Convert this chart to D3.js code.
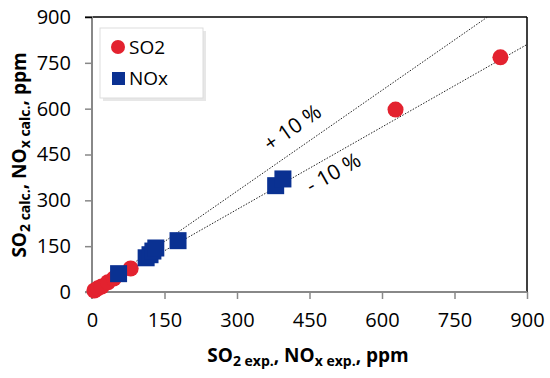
<!DOCTYPE html>
<html><head><meta charset="utf-8">
<script src="https://cdn.jsdelivr.net/npm/d3@7"></script>
<style>body{margin:0;background:#fff}</style>
</head><body><svg id="c" width="550" height="378"></svg>
<script>
const ticks = [0,150,300,450,600,750,900];
const so2X = [5,12,20,33,45,80,628,845];
const so2Y = [5,12,18,32,44,77,597,768];
const noxX = [55,112,120,126,132,178,380,395];
const noxY = [60,112,122,134,144,168,348,370];
const bandFactors = [1.1, 0.9];
const bandLabels = ["+ 10 %", "- 10 %"];
const legendNames = ["SO2","NOx"];

const svg = d3.select("#c");
const font = "'Open Sans', sans-serif";
const L=92,R=527,T=17,B=292;
const x = d3.scaleLinear().domain([0,900]).range([L,R]);
const y = d3.scaleLinear().domain([0,900]).range([B,T]);

// frame
svg.append("line").attr("x1",L).attr("x2",R).attr("y1",T).attr("y2",T).attr("stroke","#000").attr("stroke-width",1.5);
svg.append("line").attr("x1",R).attr("x2",R).attr("y1",T).attr("y2",B).attr("stroke","#000").attr("stroke-width",1.5);

svg.append("clipPath").attr("id","cp").append("rect").attr("x",L).attr("y",T).attr("width",R-L).attr("height",B-T);

// guide lines
const g = svg.append("g").attr("clip-path","url(#cp)");
bandFactors.forEach(f=>{
  g.append("line").attr("x1",x(0)).attr("y1",y(0)).attr("x2",x(1000)).attr("y2",y(1000*f))
   .attr("stroke","#222").attr("stroke-width",1).attr("stroke-dasharray","1.5,1.5");
});

// axes
const xa = svg.append("g").attr("transform",`translate(0,${B})`).call(d3.axisBottom(x).tickValues(ticks).tickSize(7).tickPadding(14));
const ya = svg.append("g").attr("transform",`translate(${L},0)`).call(d3.axisLeft(y).tickValues(ticks).tickSize(7).tickPadding(14));
[xa,ya].forEach(a=>{
  a.select(".domain").attr("stroke","#888").attr("stroke-width",2);
  a.selectAll(".tick line").attr("stroke","#888").attr("stroke-width",1.5);
  a.selectAll(".tick text").attr("font-family",font).attr("font-size",20).attr("fill","#000");
});
xa.select(".domain").attr("d",`M${L},7V0H${R}V0`);
ya.select(".domain").attr("d",`M-7,${B}H0V${T}H-7`);
ya.selectAll(".tick").filter(d=>d===900).select("line").attr("stroke","#000");

// points
const so2 = so2X.map((v,i)=>[v,so2Y[i]]);
const nox = noxX.map((v,i)=>[v,noxY[i]]);
svg.append("g").selectAll("circle").data(so2).join("circle")
  .attr("cx",d=>x(d[0])).attr("cy",d=>y(d[1])).attr("r",8).attr("fill","#e3222f");
svg.append("g").selectAll("rect").data(nox).join("rect")
  .attr("x",d=>x(d[0])-8.5).attr("y",d=>y(d[1])-8.5).attr("width",17).attr("height",17).attr("fill","#0a3192");

// band labels
const angs = bandFactors.map(f=>Math.atan(f*(B-T)/(R-L))*180/Math.PI);
[[292,127],[333,172]].forEach((p,i)=>{
  svg.append("text").attr("transform",`translate(${p[0]},${p[1]}) rotate(${-angs[i]})`)
    .attr("text-anchor","middle").attr("dominant-baseline","central")
    .attr("font-family",font).attr("font-size",21).text(bandLabels[i]);
});

// legend
const lg = svg.append("g");
lg.append("rect").attr("x",103).attr("y",31).attr("width",103).attr("height",70).attr("fill","#d0d0d0").attr("opacity",0.5);
lg.append("rect").attr("x",100).attr("y",28).attr("width",103).attr("height",70).attr("fill","#fff").attr("stroke","#ddd");
lg.append("circle").attr("cx",118).attr("cy",47).attr("r",7).attr("fill","#e3222f");
lg.append("rect").attr("x",112).attr("y",72).attr("width",13).attr("height",13).attr("fill","#0a3192");
legendNames.forEach((n,i)=>{
  lg.append("text").attr("x",129).attr("y",54+i*31).attr("font-family",font).attr("font-size",19).text(n);
});

// axis titles
const xt = svg.append("text").attr("x",308).attr("y",362).attr("text-anchor","middle")
  .attr("font-family",font).attr("font-size",19).attr("font-weight","bold");
xt.append("tspan").text("SO");
xt.append("tspan").attr("font-size",14).attr("dy",4).text("2 exp.");
xt.append("tspan").attr("dy",-4).text(", NO");
xt.append("tspan").attr("font-size",14).attr("dy",4).text("x exp.");
xt.append("tspan").attr("dy",-4).text(", ppm");

const yt = svg.append("text").attr("transform","translate(26,155) rotate(-90)").attr("text-anchor","middle")
  .attr("font-family",font).attr("font-size",19).attr("font-weight","bold");
yt.append("tspan").text("SO");
yt.append("tspan").attr("font-size",14).attr("dy",4).text("2 calc.");
yt.append("tspan").attr("dy",-4).text(", NO");
yt.append("tspan").attr("font-size",14).attr("dy",4).text("x calc.");
yt.append("tspan").attr("dy",-4).text(", ppm");
</script></body></html>
